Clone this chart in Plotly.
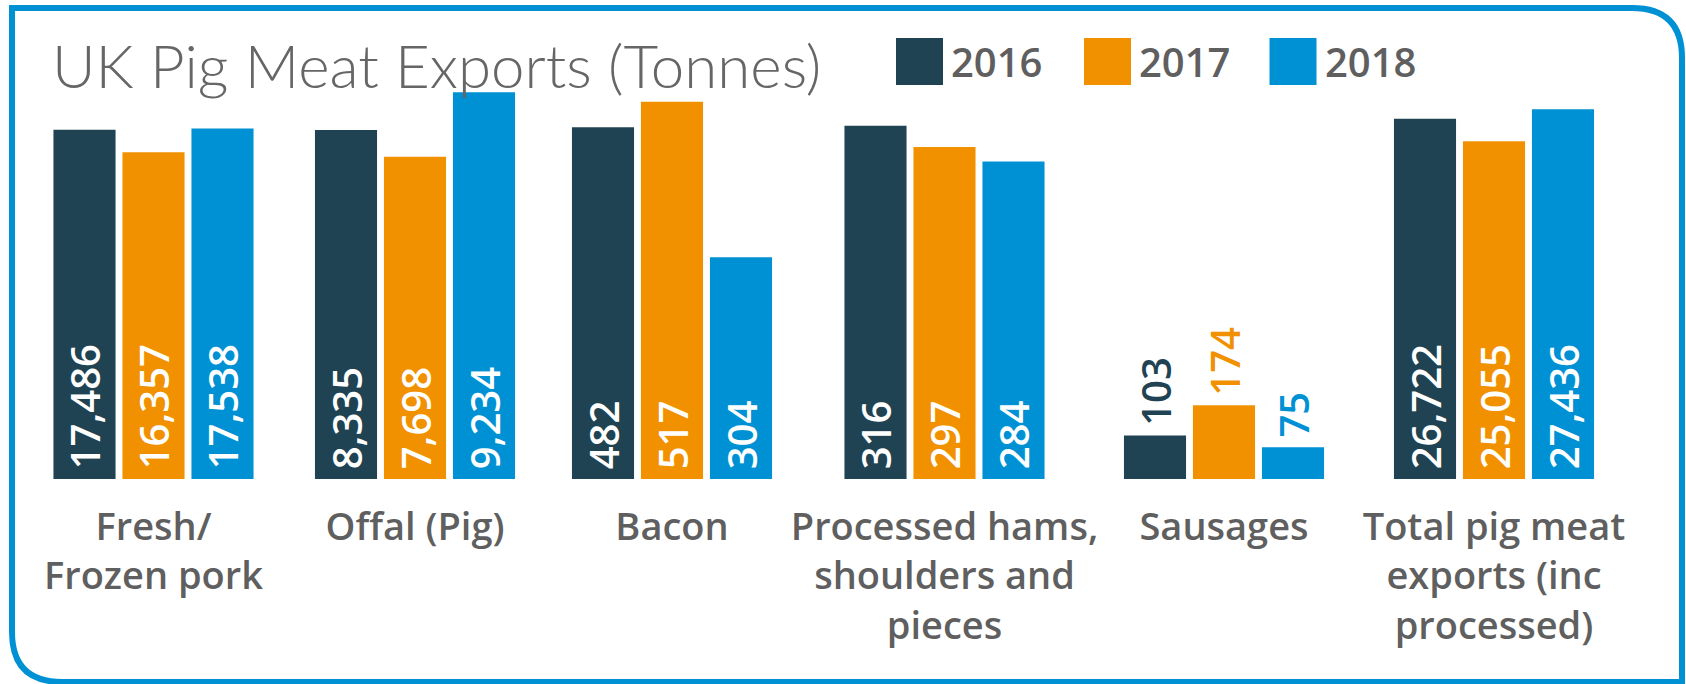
import plotly.graph_objects as go

# ---------------- data ----------------
categories = [
    "Fresh/<br>Frozen pork",
    "Offal (Pig)",
    "Bacon",
    "Processed hams,<br>shoulders and<br>pieces",
    "Sausages",
    "Total pig meat<br>exports (inc<br>processed)",
]
years = ["2016", "2017", "2018"]
values_2016 = [17486, 8335, 482, 316, 103, 26722]
values_2017 = [16357, 7698, 517, 297, 174, 25055]
values_2018 = [17538, 9234, 304, 284, 75, 27436]
title_text = "UK Pig Meat Exports (Tonnes)"

# ---------------- layout / style ----------------
W, H = 1686, 684
M_T, M_B = 90, 205
colors = ["#1F4352", "#F29100", "#0091D5"]
group_centers = [153.5, 415, 672, 944.5, 1224, 1494]
group_width = 207
y_max = [19470, 9290, 533, 348, 919, 28860]   # each panel has its own scale
outside_groups = [4]
FONT = "Open Sans"
GREY = "#5F5F5F"

series = [values_2016, values_2017, values_2018]


def px_x(x):
    return x / W


def px_y(y):
    return 1 - (y - M_T) / (H - M_T - M_B)


fig = go.Figure()
layout_axes = {}
for i, cat in enumerate(categories):
    suffix = "" if i == 0 else str(i + 1)
    xa, ya = "x" + suffix, "y" + suffix
    for j, year in enumerate(years):
        outside = i in outside_groups
        fig.add_trace(go.Bar(
            x=[cat], y=[series[j][i]], name=year,
            xaxis=xa, yaxis=ya,
            marker=dict(color=colors[j], line=dict(width=0)),
            texttemplate="\u2009%{y:,}",
            textposition="outside" if outside else "inside",
            insidetextanchor="start",
            textangle=-90,
            constraintext="none",
            cliponaxis=False,
            textfont=dict(family=FONT, size=40, weight=600,
                          color=colors[j] if outside else "white"),
            showlegend=False,
            hoverinfo="skip",
        ))
    c = group_centers[i]
    layout_axes["xaxis" + suffix] = dict(
        domain=[px_x(c - group_width / 2), px_x(c + group_width / 2)],
        anchor=ya, type="category", range=[-0.5, 0.5],
        showgrid=False, zeroline=False, showline=False, ticks="",
        tickfont=dict(family=FONT, size=38, color=GREY, weight=600),
        ticklabelstandoff=22, automargin=False,
    )
    layout_axes["yaxis" + suffix] = dict(
        domain=[0, 1], anchor=xa, range=[0, y_max[i]],
        visible=False, showgrid=False, zeroline=False, automargin=False,
    )

# legend drawn as boxes + text
shapes = []
annotations = []
legend_box_left = [896, 1084, 1269.5]
for j, year in enumerate(years):
    x0 = legend_box_left[j]
    shapes.append(dict(type="rect", xref="paper", yref="paper",
                       x0=px_x(x0), x1=px_x(x0 + 47), y0=px_y(85), y1=px_y(38),
                       fillcolor=colors[j], line=dict(width=0)))
    annotations.append(dict(text=year, xref="paper", yref="paper",
                            x=px_x(x0 + 53), y=px_y(62), xanchor="left", yanchor="middle",
                            showarrow=False,
                            font=dict(family=FONT, size=40, color=GREY, weight=600)))

annotations.append(dict(text=title_text, xref="paper", yref="paper",
                        x=px_x(50), y=px_y(65), xanchor="left", yanchor="middle",
                        showarrow=False,
                        font=dict(family="Lato", size=60, color="#666666", weight=300)))

# rounded frame (square top-left, rounded top-right and bottom-left)
R = 50
L, T, Rt, B = 12, 8, 1682, 682
path = (f"M {px_x(L)},{px_y(T)} L {px_x(Rt - R)},{px_y(T)} "
        f"Q {px_x(Rt)},{px_y(T)} {px_x(Rt)},{px_y(T + R)} "
        f"L {px_x(Rt)},{px_y(B)} L {px_x(L + R)},{px_y(B)} "
        f"Q {px_x(L)},{px_y(B)} {px_x(L)},{px_y(B - R)} Z")
shapes.append(dict(type="path", xref="paper", yref="paper", path=path,
                   line=dict(color="#0091D5", width=6), layer="below"))

fig.update_layout(
    width=W, height=H, autosize=False,
    margin=dict(l=0, r=0, t=M_T, b=M_B, pad=0, autoexpand=False),
    barmode="group", bargap=0, bargroupgap=0.1,
    paper_bgcolor="white", plot_bgcolor="rgba(0,0,0,0)",
    shapes=shapes, annotations=annotations,
    showlegend=False,
    **layout_axes,
)

fig.write_html(
    "out.html",
    config={"displayModeBar": False},
    post_script="document.body.style.margin='0';document.body.style.overflow='hidden';",
)
